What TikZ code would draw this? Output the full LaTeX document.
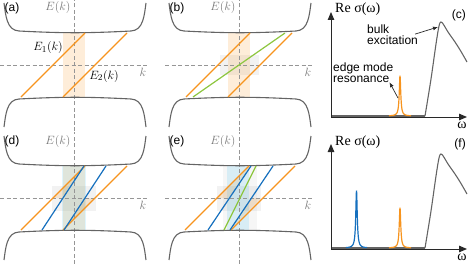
\documentclass[tikz,border=0pt]{standalone}
\usepackage{fontspec}
\setsansfont{Liberation Sans}
\newfontfamily\timesfont{Liberation Serif}
\usetikzlibrary{arrows.meta,positioning,calc}

\definecolor{bandgray}{RGB}{100,100,100}
\definecolor{dashgray}{RGB}{150,150,150}
\definecolor{textgray}{RGB}{120,120,120}
\definecolor{axisdark}{RGB}{40,40,40}
\definecolor{edgeorange}{RGB}{247,148,30}
\definecolor{edgeblue}{RGB}{22,112,190}
\definecolor{edgegreen}{RGB}{141,198,63}

\tikzset{
  band/.style={bandgray,line width=1.1pt},
  kaxis/.style={dashgray,line width=0.8pt,dash pattern=on 4pt off 2.5pt},
  mode/.style={line width=1.2pt},
  tint/.style={fill opacity=0.17},
  graytint/.style={fill=black!40,fill opacity=0.13},
  cyantint/.style={fill=cyan,fill opacity=0.12},
  panel/.style={font=\sffamily\fontsize{12}{12}\selectfont,inner sep=0pt},
  klabel/.style={textgray,font=\fontsize{13}{13}\selectfont,inner sep=0pt},
  elabel/.style={font=\fontsize{13}{13}\selectfont,inner sep=0pt},
  slabel/.style={font=\timesfont\fontsize{14}{14}\selectfont,inner sep=0pt},
  note/.style={font=\sffamily\fontsize{12}{11}\selectfont,align=left,inner sep=0pt},
  notearrow/.style={axisdark,line width=0.7pt,-{Latex[length=5pt,width=4pt]}},
  spaxis/.style={axisdark,line width=1pt,{Triangle[length=8pt,width=6.5pt]}-{Triangle[length=8pt,width=6.5pt]}},
  specbase/.style={bandgray,line width=1.8pt},
  bulk/.style={bandgray,line width=1.1pt},
  pics/bandgap/.style={code={
    \draw[kaxis] (0,-66) -- (0,66);
    \draw[kaxis] (-74,0) -- (73,0);
    \draw[band] (-70,62) to[out=-82,in=177] (-55,34) to[out=-3,in=183] (57,34) to[out=3,in=-98] (72,62);
    \draw[band] (-70,-62) to[out=82,in=-177] (-55,-34) to[out=3,in=177] (57,-34) to[out=-3,in=98] (72,-62);
    \node[klabel] (-ek) at (-16,57) {$E(k)$};
    \node[klabel] (-k) at (69,-7) {$k$};
  }}
}

\begin{document}
\begin{tikzpicture}[x=1pt,y=1pt]
\useasboundingbox (0,0) rectangle (471,263);

% (a) one pair of edge branches
\begin{scope}[shift={(74,198)}]
  \fill[edgeorange,tint] (-11,-32) rectangle (11,32);
  \pic (pa) {bandgap};
  \draw[mode,edgeorange] (-53,-32) -- (11,32);
  \draw[mode,edgeorange] (-11,-32) -- (53,32);
  \node[panel] (labela) at (-62,57) {(a)};
  \node[elabel] (eone) at (-26,17) {$E_1(k)$};
  \node[elabel] (etwo) at (30,-11) {$E_2(k)$};
\end{scope}

% (b) extra branch through k=0
\begin{scope}[shift={(239,198)}]
  \fill[graytint] (-19.5,-10) rectangle (19.5,10);
  \fill[edgeorange,tint] (-11,-32) rectangle (11,32);
  \pic (pb) {bandgap};
  \draw[mode,edgeorange] (-53,-32) -- (11,32);
  \draw[mode,edgeorange] (-11,-32) -- (53,32);
  \draw[mode,edgegreen] (-46,-32) -- (46,32);
  \node[panel] (labelb) at (-62,57) {(b)};
\end{scope}

% (d) two pairs
\begin{scope}[shift={(74,65)}]
  \fill[graytint] (-22,-12.5) rectangle (22,12.5);
  \fill[edgeorange,tint] (-21,0) -- (11,32) -- (10,32) -- (-11,0) -- cycle;
  \fill[edgeorange,tint] (21,0) -- (-11,-32) -- (-10,-32) -- (11,0) -- cycle;
  \fill[edgeorange,tint] (-11,-32) rectangle (11,32);
  \fill[cyantint] (-12,-32) rectangle (12,32);
  \pic (pd) {bandgap};
  \draw[mode,edgeorange] (-53,-32) -- (11,32);
  \draw[mode,edgeorange] (-11,-32) -- (53,32);
  \draw[mode,edgeblue] (-32,-32) -- (10,32);
  \draw[mode,edgeblue] (-10,-32) -- (32,32);
  \node[panel] (labeld) at (-62,57) {(d)};
\end{scope}

% (e) two pairs and a steep branch
\begin{scope}[shift={(239,65)}]
  \fill[graytint,fill opacity=0.09] (-16,-32) rectangle (18,32);
  \fill[graytint] (-22,-12.5) rectangle (22,12.5);
  \fill[edgeorange,tint] (-22,0) -- (10,32) -- (12,32) -- (-10,0) -- cycle;
  \fill[edgeorange,tint] (22,0) -- (-10,-32) -- (-9,-32) -- (12,0) -- cycle;
  \fill[cyantint] (-12,-32) rectangle (10,32);
  \pic (pe) {bandgap};
  \draw[mode,edgeorange] (-54,-32) -- (10,32);
  \draw[mode,edgeorange] (-8,-32) -- (56,32);
  \draw[mode,edgeblue] (-31,-32) -- (12,32);
  \draw[mode,edgeblue] (-9,-32) -- (34,32);
  \draw[mode,edgegreen] (-15,-32) -- (17,32);
  \node[panel] (labele) at (-62,57) {(e)};
\end{scope}

% (c) conductivity, one resonance
\begin{scope}[shift={(331,146)}]
  \draw[specbase] (0,1) -- (94,1);
  \draw[bulk] plot[smooth,tension=0.55] coordinates {(94,1) (100,38) (105,73) (108,91) (110,95) (112.5,92.5) (117,85) (124,75) (130,65.5) (136,55)};
  \draw[mode,edgeorange] plot[domain=58:80,samples=200] (\x,{1+40/(1+((\x-69)/0.9)^2)});
  \draw[spaxis] (0,105) -- (0,0) -- (136,0);
  \node[slabel,anchor=west] (resc) at (4,108) {Re σ(ω)};
  \node[slabel] (omegac) at (131,-8) {ω};
  \node[panel,anchor=east] (labelc) at (135,102) {(c)};
  \node[note,anchor=north west] (bulktext) at (36,92) {bulk\\excitation};
  \node[note,anchor=north west] (edgetext) at (2,54) {edge mode\\resonance};
  \coordinate (bulkpeak) at (107,90);
  \coordinate (edgepeak) at (67,19);
  \draw[notearrow] ([xshift=-3pt,yshift=1pt]bulktext.east) -- (bulkpeak);
  \draw[notearrow] (edgepeak) -- ([xshift=-4pt,yshift=1pt]edgetext.south east);
\end{scope}

% (f) conductivity, two resonances
\begin{scope}[shift={(331,14)}]
  \draw[specbase] (0,1) -- (94,1);
  \draw[bulk] plot[smooth,tension=0.55] coordinates {(94,1) (100,38) (105,73) (108,91) (110,95) (112.5,92.5) (117,85) (124,75) (130,65.5) (136,55)};
  \draw[mode,edgeblue] plot[domain=15:36,samples=200] (\x,{1+57/(1+((\x-25.5)/0.9)^2)});
  \draw[mode,edgeorange] plot[domain=58:80,samples=200] (\x,{1+40/(1+((\x-69)/0.9)^2)});
  \draw[spaxis] (0,105) -- (0,0) -- (136,0);
  \node[slabel,anchor=west] (resf) at (4,107) {Re σ(ω)};
  \node[slabel] (omegaf) at (131,-8) {ω};
  \node[panel,anchor=east] (labelf) at (135,105) {(f)};
\end{scope}
\end{tikzpicture}
\end{document}
